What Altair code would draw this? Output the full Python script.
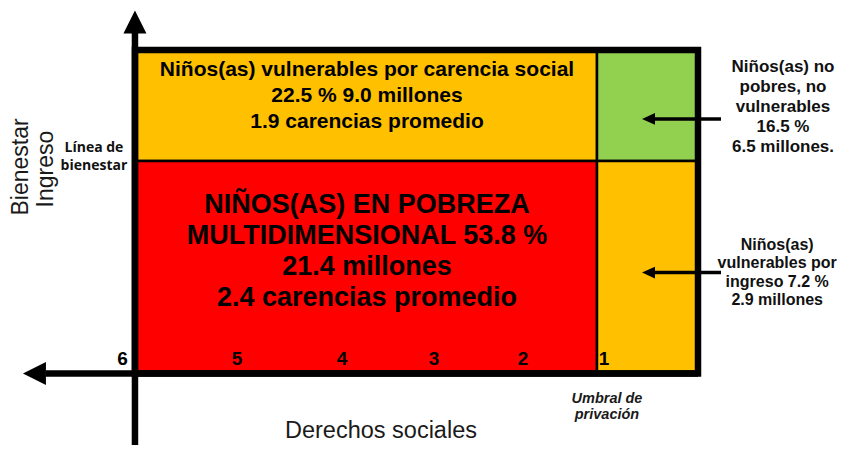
import altair as alt
import pandas as pd

# ---------------- data ----------------
# Cells of the diagram: number of social deprivations (carencias, x) vs income (y, 1 = linea de bienestar)
cell_names = ["Vulnerables por carencia social", "Pobreza multidimensional",
              "No pobres, no vulnerables", "Vulnerables por ingreso"]
cell_car_from = [6, 6, 1, 1]
cell_car_to = [1, 1, -0.093, -0.093]
cell_ing_from = [1, 0, 1, 0]
cell_ing_to = [1.522, 1, 1.522, 1]
cell_colors = ["#FFC000", "#FF0000", "#92D050", "#FFC000"]

tick_labels = ["6", "5", "4", "3", "2", "1"]
tick_car = [6.135, 4.896, 3.760, 2.764, 1.801, 0.924]

text_carencia = ["Niños(as) vulnerables por carencia social", "22.5 % 9.0 millones", "1.9 carencias promedio"]
text_pobreza = ["NIÑOS(AS) EN POBREZA", "MULTIDIMENSIONAL 53.8 %", "21.4 millones", "2.4 carencias promedio"]
text_no_pobres = ["Niños(as) no", "pobres, no", "vulnerables", "16.5 %", "6.5 millones."]
text_ingreso = ["Niños(as)", "vulnerables por", "ingreso 7.2 %", "2.9 millones"]
text_linea = ["Línea de", "bienestar"]
text_umbral = ["Umbral de", "privación"]
axis_x_title = "Derechos sociales"
axis_y_titles = ["Bienestar", "Ingreso"]

# ---------------- scales ----------------
W, H = 830, 437
xs = alt.Scale(domain=[7.374, -1.608], nice=False, zero=False)
ys = alt.Scale(domain=[-0.336, 1.72], nice=False, zero=False)


def X(f="x"):
    return alt.X(f"{f}:Q", scale=xs, axis=None)


def Y(f="y"):
    return alt.Y(f"{f}:Q", scale=ys, axis=None)


cells = pd.DataFrame({"name": cell_names, "x": cell_car_from, "x2": cell_car_to,
                      "y": cell_ing_from, "y2": cell_ing_to, "c": cell_colors})

cell_layer = alt.Chart(cells).mark_rect(stroke="black", strokeWidth=2.5).encode(
    x=X(), x2="x2:Q", y=Y(), y2="y2:Q", fill=alt.Fill("c:N", scale=None))

frame = pd.DataFrame({"x": [6], "x2": [-0.093], "y": [0], "y2": [1.522]})
frame_layer = alt.Chart(frame).mark_rect(fill=None, fillOpacity=0, stroke="black", strokeWidth=6.5).encode(
    x=X(), x2="x2:Q", y=Y(), y2="y2:Q")

axes = pd.DataFrame({"x": [6, 6.963], "x2": [6, -0.093], "y": [-0.336, 0], "y2": [1.61, 0]})
axes_layer = alt.Chart(axes).mark_rule(color="black", strokeWidth=6.5).encode(
    x=X(), x2="x2:Q", y=Y(), y2="y2:Q")

up_head = alt.Chart(pd.DataFrame({"x": [6], "y": [1.654]})).mark_point(
    shape="M0,-1L1,1L-1,1Z", size=529, filled=True, color="black", opacity=1).encode(x=X(), y=Y())
left_head = alt.Chart(pd.DataFrame({"x": [7.088], "y": [0]})).mark_point(
    shape="M-1,0L1,-1L1,1Z", size=529, filled=True, color="black", opacity=1).encode(x=X(), y=Y())

ptr = pd.DataFrame({"x": [-0.342, -0.342], "x2": [0.40, 0.40], "y": [1.198, 0.475], "y2": [1.198, 0.475]})
ptr_layer = alt.Chart(ptr).mark_rule(color="black", strokeWidth=3.5).encode(
    x=X(), x2="x2:Q", y=Y(), y2="y2:Q")
ptr_heads = alt.Chart(pd.DataFrame({"x": [0.443, 0.443], "y": [1.198, 0.475]})).mark_point(
    shape="M-1,0L1,-0.9L1,0.9Z", size=169, filled=True, color="black", opacity=1).encode(x=X(), y=Y())


def block(lines, x, y, size, lh, weight="bold", font="Liberation Sans", style="normal",
          color="black", angle=0):
    # y is the position of the first line
    df = pd.DataFrame({"t": ["\n".join(lines)], "x": [x], "y": [y]})
    return alt.Chart(df).mark_text(
        font=font, fontSize=size, fontWeight=weight, fontStyle=style, lineBreak="\n",
        lineHeight=lh, align="center", baseline="middle", color=color, angle=angle
    ).encode(x=X(), y=Y(), text="t:N")


texts = [
    block(text_carencia, 3.489, 1.428, 21, 26),
    block(text_pobreza, 3.489, 0.793, 27, 31),
    block(text_no_pobres, -1.013, 1.442, 17, 20, color="#111111"),
    block(text_ingreso, -0.95, 0.605, 16, 18.5, color="#111111"),
    block(text_linea, 6.444, 1.061, 14, 18, font="Open Sans", color="#111111"),
    block(text_umbral, 0.892, -0.12, 14.5, 16, style="italic", color="#1a1a1a"),
    block([axis_x_title], 3.338, -0.271, 23.5, 26, weight="normal", color="#1a1a1a"),
    block([axis_y_titles[0]], 7.235, 0.972, 23, 26, weight="normal", color="#1a1a1a", angle=270),
    block([axis_y_titles[1]], 6.963, 0.962, 23, 26, weight="normal", color="#1a1a1a", angle=270),
]

ticks = pd.DataFrame({"t": tick_labels, "x": tick_car, "y": [0.0706] * len(tick_labels)})
tick_layer = alt.Chart(ticks).mark_text(
    font="Liberation Sans", fontSize=19, fontWeight="bold", baseline="middle", align="center", color="black"
).encode(x=X(), y=Y(), text="t:N")

chart = alt.layer(cell_layer, frame_layer, axes_layer, up_head, left_head, ptr_layer, ptr_heads,
                  tick_layer, *texts).properties(
    width=W, height=H, padding=0, background="white", autosize=alt.AutoSizeParams(type="none")
).configure_view(stroke=None, strokeWidth=0)

chart.save("out.html", embed_options={"renderer": "svg", "actions": False})
